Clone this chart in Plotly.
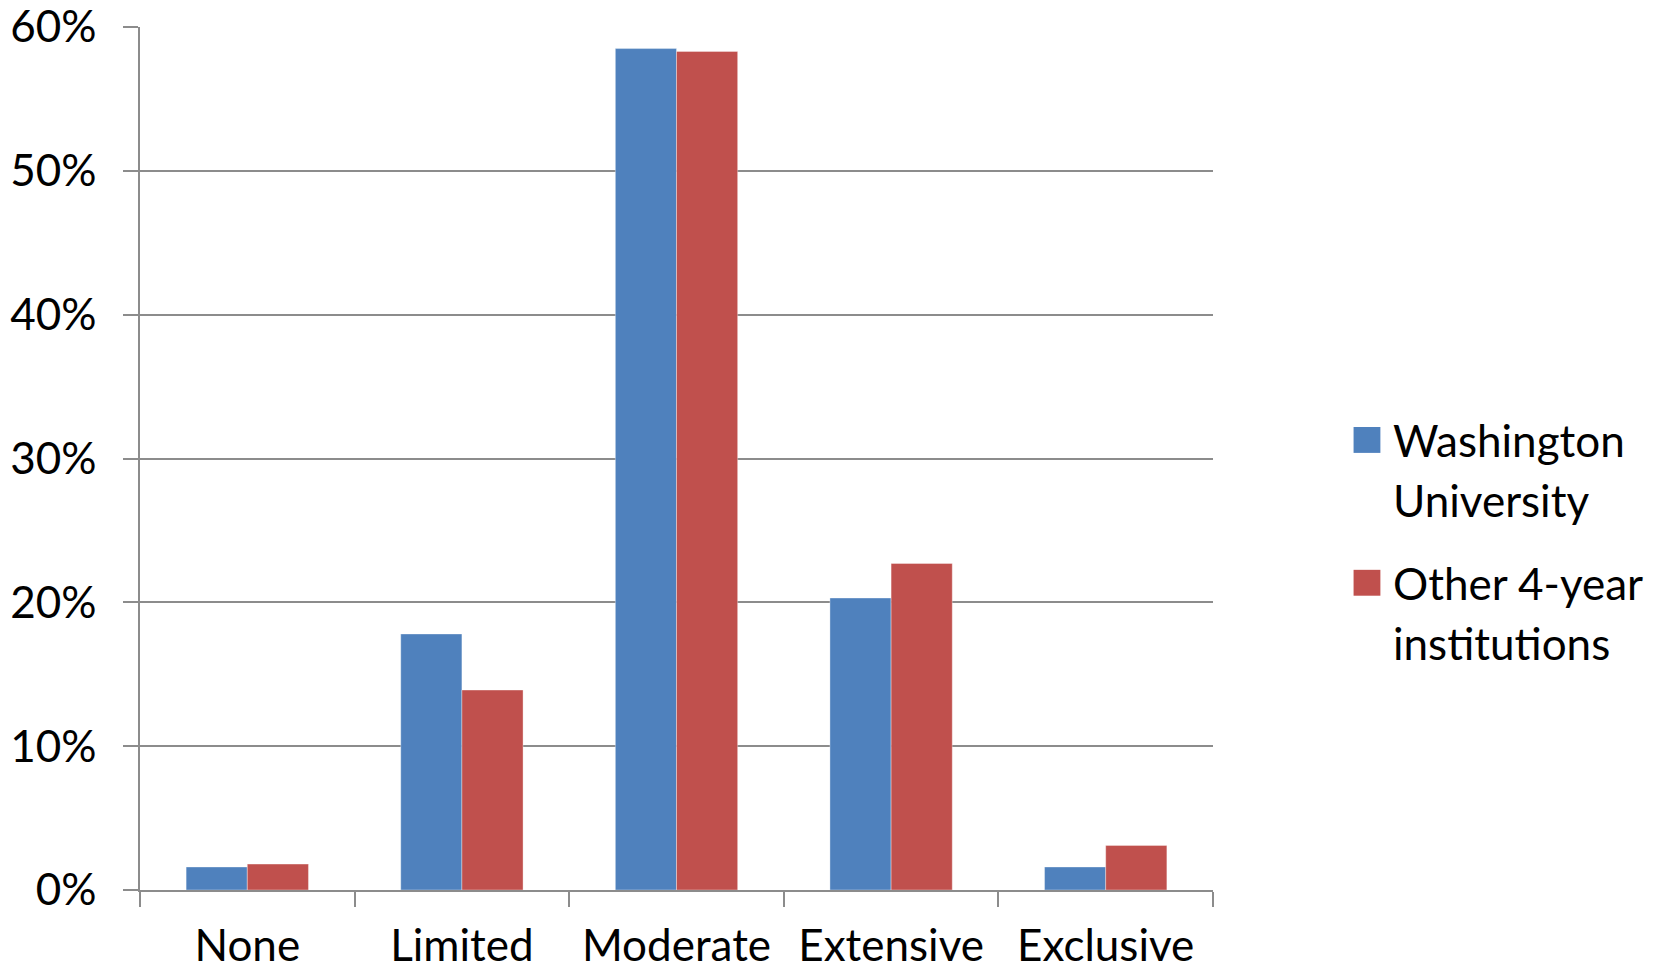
import plotly.graph_objects as go

categories = ["None", "Limited", "Moderate", "Extensive", "Exclusive"]
washu = [1.6, 17.8, 58.5, 20.3, 1.6]
other = [1.8, 13.9, 58.3, 22.7, 3.1]
series_names = ["Washington<br>University", "Other 4-year<br>institutions"]
colors = ["#4F81BD", "#C0504D"]
y_ticks = [0, 10, 20, 30, 40, 50, 60]
y_tick_text = [f"{v}%" for v in y_ticks]

FONT = "Lato"
FS = 44
GRID = "#8c8c8c"

fig = go.Figure()
for name, vals, col in zip(series_names, [washu, other], colors):
    fig.add_trace(go.Bar(
        x=categories, y=vals, name=name,
        marker=dict(color=col, line=dict(width=1, color="rgba(255,255,255,0.35)")),
        showlegend=False,
    ))

# Legend: square swatch beside a two-line label for each series
legend_tops = [0.5365, 0.371]   # top edge of each swatch (paper units)
SW_H = 0.030
LINE_GAP = 0.0695
for name, col, top in zip(series_names, colors, legend_tops):
    fig.add_shape(type="rect", xref="paper", yref="paper",
                  x0=1.131, x1=1.156, y0=top - SW_H, y1=top,
                  fillcolor=col, line=dict(width=0))
    first_center = top - SW_H / 2
    for i, line in enumerate(name.split("<br>")):
        fig.add_annotation(xref="paper", yref="paper", x=1.166,
                           y=first_center - i * LINE_GAP,
                           xanchor="left", yanchor="middle", align="left",
                           text=line, showarrow=False,
                           font=dict(family=FONT, size=FS))

fig.update_layout(
    width=1653, height=972,
    margin=dict(l=140, r=440, t=27, b=82, autoexpand=False),
    paper_bgcolor="white", plot_bgcolor="white",
    barmode="group", bargap=0.43, bargroupgap=0,
    font=dict(family=FONT, size=FS, color="#000000"),
    xaxis=dict(
        type="category", tickson="boundaries", ticks="outside", ticklen=15,
        tickcolor=GRID, tickwidth=1.5, showline=True, linecolor=GRID,
        linewidth=1.5, showgrid=False, ticklabelstandoff=16, automargin=False,
        ticklabeloverflow="allow", tickfont=dict(family=FONT, size=FS),
    ),
    yaxis=dict(
        range=[0, 60], tickvals=y_ticks, ticktext=y_tick_text,
        ticks="outside", ticklen=15, tickcolor=GRID, tickwidth=1.5,
        showline=True, linecolor=GRID, linewidth=1.5, automargin=False,
        showgrid=True, gridcolor=GRID, gridwidth=1.5, zeroline=False,
        ticklabelstandoff=18, ticklabeloverflow="allow",
        tickfont=dict(family=FONT, size=FS),
    ),
)

fig.write_html("out.html")
